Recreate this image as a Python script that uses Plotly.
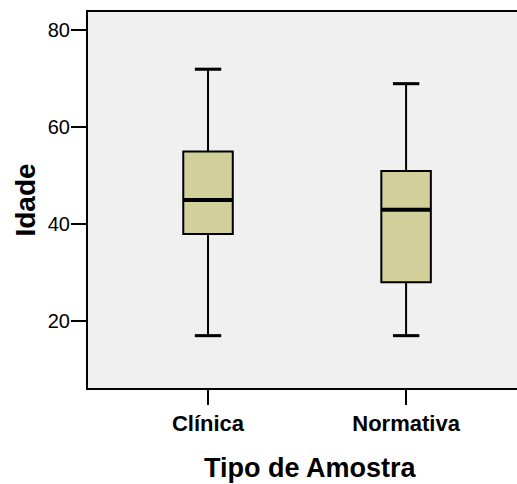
import plotly.graph_objects as go

# Summary statistics of age per sample type
categories = ["Clínica", "Normativa"]
lower_whisker = [17, 17]
q1_values = [38, 28]
median_values = [45, 43]
q3_values = [55, 51]
upper_whisker = [72, 69]
y_ticks = [20, 40, 60, 80]

BOX_WIDTH = 0.25
CAP_FRACTION = 0.53
BOX_FILL = "#D3CF9B"
FONT = "Arial, Liberation Sans, sans-serif"

positions = list(range(len(categories)))

fig = go.Figure()

fig.add_trace(go.Box(
    x=positions,
    q1=q1_values,
    median=median_values,
    q3=q3_values,
    lowerfence=lower_whisker,
    upperfence=upper_whisker,
    width=BOX_WIDTH,
    whiskerwidth=CAP_FRACTION,
    fillcolor=BOX_FILL,
    line=dict(color="black", width=2),
    boxpoints=False,
    showlegend=False,
    hoverinfo="skip",
))

# Heavier median bars and whisker caps drawn on top of each box
med_x, med_y = [], []
for pos, med in zip(positions, median_values):
    med_x += [pos - BOX_WIDTH / 2, pos + BOX_WIDTH / 2, None]
    med_y += [med, med, None]
fig.add_trace(go.Scatter(
    x=med_x, y=med_y, mode="lines",
    line=dict(color="black", width=4),
    showlegend=False, hoverinfo="skip",
))

cap_half = BOX_WIDTH * CAP_FRACTION / 2
cap_x, cap_y = [], []
for pos, lo, hi in zip(positions, lower_whisker, upper_whisker):
    for v in (lo, hi):
        cap_x += [pos - cap_half, pos + cap_half, None]
        cap_y += [v, v, None]
fig.add_trace(go.Scatter(
    x=cap_x, y=cap_y, mode="lines",
    line=dict(color="black", width=3),
    showlegend=False, hoverinfo="skip",
))

fig.update_layout(
    width=517,
    height=484,
    margin=dict(l=88, r=0, t=12, b=96),
    paper_bgcolor="white",
    plot_bgcolor="#F0F0F0",
    font=dict(family=FONT, color="black"),
    annotations=[dict(
        text="<b>Tipo de Amostra</b>",
        xref="paper", yref="paper",
        x=0.518, y=0, yshift=-63,
        xanchor="center", yanchor="top",
        showarrow=False,
        font=dict(size=27, family=FONT, color="black"),
    )],
)

fig.update_xaxes(
    range=[-0.606, 1.56],
    tickvals=positions,
    ticktext=[f"<b>{c}</b>" for c in categories],
    tickfont=dict(size=22, family=FONT, color="black"),
    ticks="outside", ticklen=15, tickwidth=2, tickcolor="black",
    showline=True, linewidth=2, linecolor="black", mirror=True,
    showgrid=False, zeroline=False,
)

fig.update_yaxes(
    range=[6.2, 83.8],
    tickvals=y_ticks,
    tickfont=dict(size=20, family=FONT, color="black"),
    ticks="outside", ticklen=15, tickwidth=2, tickcolor="black",
    ticklabelstandoff=-3,
    showline=True, linewidth=2, linecolor="black",
    showgrid=False, zeroline=False,
    title=dict(text="<b>Idade</b>", font=dict(size=28, family=FONT, color="black"), standoff=4),
)

fig.write_html("out.html")
